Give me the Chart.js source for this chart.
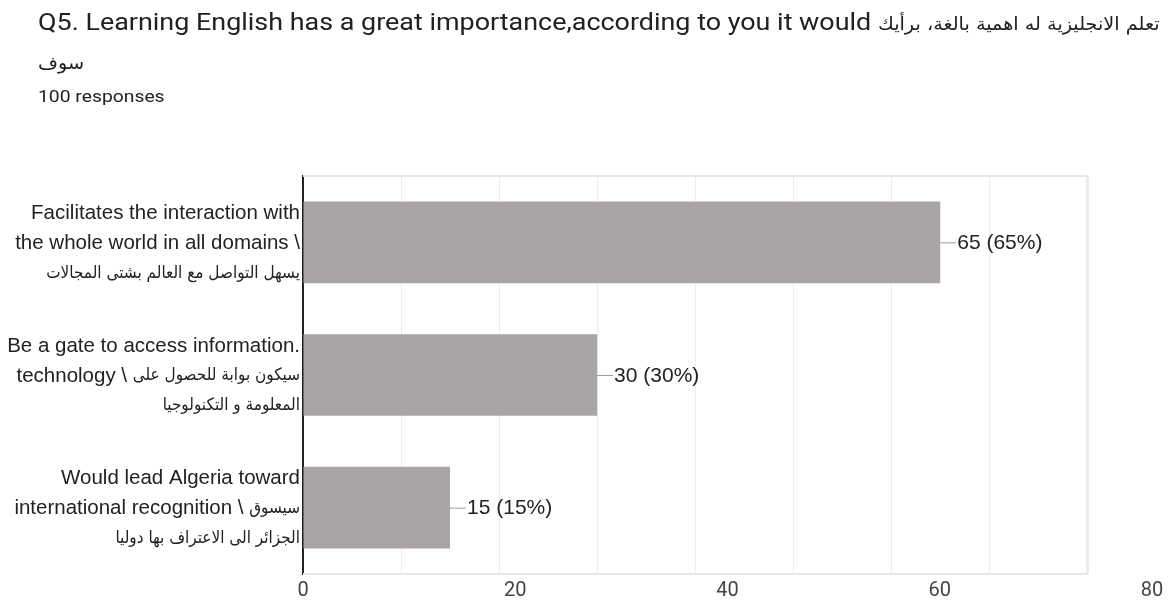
<!DOCTYPE html>
<html>
<head>
<meta charset="utf-8">
<script src="https://cdn.jsdelivr.net/npm/chart.js@4/dist/chart.umd.min.js"></script>
<style>
    html, body { margin: 0; padding: 0; background: #fff; }
    #wrap { position: relative; width: 1172px; height: 613px; overflow: hidden; }
    #head { position: absolute; left: 38px; top: 0; color: #202124; font-family: Roboto, sans-serif;
            transform: scaleX(1.17); transform-origin: 0 0; }
    #head .q { font-size: 23px; line-height: 38px; white-space: nowrap; margin-top: 4px; }
    #head .ar { font-family: "DejaVu Sans Condensed", "DejaVu Sans", sans-serif; font-size: 18.3px; }
    #head .sub { font-size: 16.5px; margin-top: 5px; }
    #chart { position: absolute; left: 0; top: 0; }
</style>
</head>
<body>
<div id="wrap">
    <canvas id="chart" width="1172" height="613"></canvas>
    <div id="head">
        <div class="q">Q5. Learning English has a great importance,according to you it would <span class="ar">تعلم الانجليزية له اهمية بالغة، برأيك</span><br><span class="ar">سوف</span></div>
        <div class="sub">100 responses</div>
    </div>
</div>
<script>
// Respuestas de la pregunta 5
const categories = [
    ['Facilitates the interaction with', 'the whole world in all domains \\', 'يسهل التواصل مع العالم بشتى المجالات'],
    ['Be a gate to access information.', 'technology \\ سيكون بوابة للحصول على', 'المعلومة و التكنولوجيا'],
    ['Would lead Algeria toward', 'international recognition \\ سيسوق', 'الجزائر الى الاعتراف بها دوليا']
];
const counts = [65, 30, 15];
const totalResponses = 100;
const tickValues = [0, 20, 40, 60, 80];

const gridMax = 80;
const latinFont = '20.5px "Liberation Sans", Arial, sans-serif';
const arabicFont = '17px "DejaVu Sans Condensed", "DejaVu Sans", sans-serif';
const arabicRun = /([\u0600-\u06FF][\u0600-\u06FF ]*[\u0600-\u06FF]|[\u0600-\u06FF])/;

// Dibuja una linea con tramos latinos y arabes, alineada a la derecha
function drawMixedLine(ctx, text, right, y) {
    const runs = text.split(arabicRun).filter(s => s.length).map(s => {
        const font = /[\u0600-\u06FF]/.test(s) ? arabicFont : latinFont;
        ctx.font = font;
        return { s, font, w: ctx.measureText(s).width };
    });
    let x = right - runs.reduce((a, r) => a + r.w, 0);
    runs.forEach(r => {
        ctx.font = r.font;
        ctx.fillText(r.s, x, y);
        x += r.w;
    });
}

// Etiquetas de categoria (tres lineas cada una)
const categoryLabels = {
    id: 'categoryLabels',
    afterDraw(chart) {
        const { ctx, chartArea } = chart;
        const y = chart.scales.y;
        ctx.save();
        ctx.fillStyle = '#222';
        ctx.textAlign = 'left';
        ctx.textBaseline = 'middle';
        categories.forEach((lines, i) => {
            const cy = y.getPixelForTick(i);
            lines.forEach((line, j) => {
                drawMixedLine(ctx, line, chartArea.left - 3, cy + (j - 1) * 30 + 1);
            });
        });
        ctx.restore();
    }
};

// Marco superior e inferior del area de barras
const plotFrame = {
    id: 'plotFrame',
    beforeDatasetsDraw(chart) {
        const { ctx, chartArea } = chart;
        const x = chart.scales.x;
        const x0 = x.getPixelForValue(0);
        const x1 = x.getPixelForValue(gridMax);
        ctx.save();
        ctx.strokeStyle = '#e8e8e8';
        ctx.lineWidth = 2;
        ctx.beginPath();
        ctx.moveTo(x0, chartArea.top);
        ctx.lineTo(x1, chartArea.top);
        ctx.moveTo(x0, chartArea.bottom);
        ctx.lineTo(x1, chartArea.bottom);
        ctx.stroke();
        ctx.restore();
    }
};

// Etiquetas de valor con linea guia
const valueLabels = {
    id: 'valueLabels',
    afterDatasetsDraw(chart) {
        const { ctx } = chart;
        const meta = chart.getDatasetMeta(0);
        ctx.save();
        ctx.font = '21px "Liberation Sans", Arial, sans-serif';
        ctx.textBaseline = 'middle';
        ctx.textAlign = 'left';
        meta.data.forEach((bar, i) => {
            const v = counts[i];
            const pct = Math.round(v / totalResponses * 100);
            ctx.strokeStyle = '#9e9e9e';
            ctx.lineWidth = 1;
            ctx.beginPath();
            ctx.moveTo(bar.x, bar.y + 0.5);
            ctx.lineTo(bar.x + 16, bar.y + 0.5);
            ctx.stroke();
            ctx.fillStyle = '#222';
            ctx.fillText(v + ' (' + pct + '%)', bar.x + 17, bar.y + 1);
        });
        ctx.restore();
    }
};

new Chart(document.getElementById('chart').getContext('2d'), {
    type: 'bar',
    data: {
        labels: categories,
        datasets: [{
            data: counts,
            backgroundColor: '#a9a5a4',
            borderWidth: 0,
            barPercentage: 1,
            categoryPercentage: 0.615,
            xAxisID: 'x'
        }]
    },
    options: {
        indexAxis: 'y',
        responsive: false,
        animation: false,
        devicePixelRatio: 1,
        layout: { padding: { top: 176, right: 20, bottom: 5, left: 0 } },
        plugins: {
            legend: { display: false },
            tooltip: { enabled: false }
        },
        scales: {
            y: {
                grid: { display: false },
                border: { display: true, color: '#222', width: 2 },
                ticks: { display: false },
                afterFit(scale) { scale.width = 303; }
            },
            x: {
                position: 'bottom',
                min: 0,
                max: 86.6,
                border: { display: false },
                grid: {
                    drawTicks: false,
                    color: '#ececec',
                    lineWidth: ctx => (ctx.tick && ctx.tick.value === gridMax ? 3 : 1)
                },
                ticks: { display: false, stepSize: 10 },
                afterBuildTicks(scale) {
                    scale.ticks = scale.ticks.filter(t => t.value <= gridMax);
                },
                afterFit(scale) { scale.height = 0; }
            },
            x2: {
                position: 'bottom',
                min: 0,
                max: gridMax,
                border: { display: false },
                grid: { display: false, drawTicks: false },
                ticks: {
                    padding: 5,
                    color: '#444',
                    maxRotation: 0,
                    font: { family: 'Roboto, sans-serif', size: 20 }
                },
                afterBuildTicks(scale) {
                    scale.ticks = tickValues.map(v => ({ value: v }));
                }
            }
        }
    },
    plugins: [plotFrame, valueLabels, categoryLabels]
});
</script>
</body>
</html>
